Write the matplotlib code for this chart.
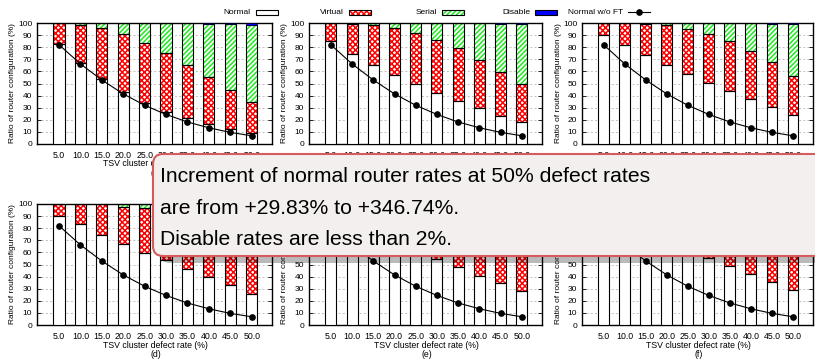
import matplotlib
matplotlib.use("Agg")
import matplotlib.pyplot as plt
from matplotlib.patches import FancyBboxPatch, Rectangle
from matplotlib.lines import Line2D
import numpy as np

plt.rcParams['font.family'] = ['Liberation Sans', 'DejaVu Sans']
plt.rcParams['hatch.linewidth'] = 1.1

# ---- data -------------------------------------------------------------
rates = ["5.0", "10.0", "15.0", "20.0", "25.0", "30.0", "35.0", "40.0", "45.0", "50.0"]
normal_wo_ft = [82.0, 66.2, 52.9, 41.4, 32.0, 24.4, 18.2, 13.4, 9.6, 6.8]

normal_a = [82.6, 66.9, 53.6, 42.8, 33.7, 26.8, 21.3, 16.3, 12.2, 8.8]
virtual_a = [17.1, 31.7, 42.3, 48.1, 49.7, 48.3, 43.6, 38.7, 32.3, 25.7]
serial_a = [0.3, 1.3, 4.0, 9.0, 16.5, 24.7, 34.8, 44.5, 54.7, 64.0]
disable_a = [0.0, 0.1, 0.1, 0.1, 0.1, 0.2, 0.3, 0.5, 0.8, 1.5]

normal_b = [85.4, 74.3, 64.9, 57.2, 49.7, 42.5, 35.9, 29.6, 23.5, 18.0]
virtual_b = [14.6, 25.1, 33.2, 38.7, 42.0, 43.7, 43.4, 40.0, 36.4, 31.4]
serial_b = [0.0, 0.6, 1.8, 4.0, 8.2, 13.7, 20.5, 30.1, 39.6, 49.8]
disable_b = [0.0, 0.0, 0.1, 0.1, 0.1, 0.1, 0.2, 0.3, 0.5, 0.8]

normal_c = [90.3, 81.5, 73.2, 65.5, 57.7, 50.8, 43.9, 37.0, 30.4, 23.8]
virtual_c = [9.7, 18.3, 26.2, 32.6, 37.3, 40.1, 40.9, 40.1, 37.3, 32.8]
serial_c = [0.0, 0.2, 0.5, 1.8, 4.9, 9.0, 15.0, 22.6, 31.8, 42.8]
disable_c = [0.0, 0.0, 0.1, 0.1, 0.1, 0.1, 0.2, 0.3, 0.5, 0.6]

normal_d = [90.4, 83.2, 74.7, 66.9, 59.8, 53.7, 46.3, 39.4, 32.8, 25.9]
virtual_d = [9.6, 16.8, 25.0, 30.9, 36.6, 40.6, 45.5, 49.3, 51.7, 53.1]
serial_d = [0.0, 0.0, 0.3, 2.1, 3.5, 5.5, 8.0, 11.0, 15.0, 20.0]
disable_d = [0.0, 0.0, 0.0, 0.1, 0.1, 0.2, 0.2, 0.3, 0.5, 1.0]

normal_e = [91.0, 83.8, 75.6, 68.0, 61.0, 54.3, 47.7, 40.8, 34.4, 27.8]
virtual_e = [9.0, 16.2, 24.2, 30.4, 35.4, 39.5, 43.8, 47.2, 49.6, 51.0]
serial_e = [0.0, 0.0, 0.2, 1.5, 3.5, 6.0, 8.3, 11.7, 15.5, 20.5]
disable_e = [0.0, 0.0, 0.0, 0.1, 0.1, 0.2, 0.2, 0.3, 0.5, 0.7]

normal_f = [91.5, 84.5, 76.5, 69.0, 62.0, 55.1, 48.5, 41.9, 35.3, 28.7]
virtual_f = [8.5, 15.5, 23.3, 29.6, 34.5, 39.0, 43.5, 47.1, 49.7, 51.1]
serial_f = [0.0, 0.0, 0.2, 1.3, 3.4, 5.7, 7.8, 10.7, 14.5, 19.5]
disable_f = [0.0, 0.0, 0.0, 0.1, 0.1, 0.2, 0.2, 0.3, 0.5, 0.7]

panel_tags = ["(a)", "(b)", "(c)", "(d)", "(e)", "(f)"]
legend_labels = ["Normal", "Virtual", "Serial", "Disable", "Normal w/o FT"]
xlabel_text = "TSV cluster defect rate (%)"
ylabel_text = "Ratio of router configuration (%)"
note_lines = ["Increment of normal router rates at 50% defect rates",
              "are from +29.83% to +346.74%.",
              "Disable rates are less than 2%."]

panels = [
    (normal_a, virtual_a, serial_a, disable_a),
    (normal_b, virtual_b, serial_b, disable_b),
    (normal_c, virtual_c, serial_c, disable_c),
    (normal_d, virtual_d, serial_d, disable_d),
    (normal_e, virtual_e, serial_e, disable_e),
    (normal_f, virtual_f, serial_f, disable_f),
]

# ---- styles -----------------------------------------------------------
RED = "#ff0000"
GREEN = "#1ee81e"
BLUE = "#0000ff"
RED_HATCH = "xxxxxx"
GREEN_HATCH = "///////"
W, H = 815, 360
BAR_W = 0.52
TICK_FS = 6.0


def rect(l, t, r, b):
    return [l / W, 1 - b / H, (r - l) / W, (b - t) / H]


fig = plt.figure(figsize=(W / 100, H / 100), dpi=100)

cols = [(37, 272), (309, 542), (582, 813)]
rows = [(23, 144), (204, 325)]


def segment(ax, x, bottom, height, hatch=None, hcolor=None, face="white"):
    if hatch is not None:
        ax.bar(x, height, BAR_W, bottom=bottom, facecolor="white",
               edgecolor=hcolor, hatch=hatch, linewidth=0, zorder=2)
        ax.bar(x, height, BAR_W, bottom=bottom, facecolor="none",
               edgecolor="black", linewidth=0.8, zorder=3)
    else:
        ax.bar(x, height, BAR_W, bottom=bottom, facecolor=face,
               edgecolor="black", linewidth=0.8, zorder=3)


for i, (normal, virtual, serial, disable) in enumerate(panels):
    r, c = divmod(i, 3)
    l, rr = cols[c]
    t, b = rows[r]
    ax = fig.add_axes(rect(l, t, rr, b))
    x = np.arange(len(rates))
    normal = np.array(normal)
    virtual = np.array(virtual)
    serial = np.array(serial)
    disable = np.array(disable)

    segment(ax, x, 0, normal, face="white")
    segment(ax, x, normal, virtual, hatch=RED_HATCH, hcolor=RED)
    segment(ax, x, normal + virtual, serial, hatch=GREEN_HATCH, hcolor=GREEN)
    ax.bar(x, disable, BAR_W, bottom=normal + virtual + serial,
           facecolor=BLUE, edgecolor="black", linewidth=0.4, zorder=3)

    ax.plot(x, normal_wo_ft, color="black", linewidth=0.8, marker="o",
            markersize=3.8, zorder=5)

    ax.set_xlim(-1.03, 9.95)
    ax.set_ylim(0, 100)
    ax.set_yticks(range(0, 101, 10))
    ax.set_xticks(x)
    ax.set_xticklabels(rates)
    ax.yaxis.grid(True, linestyle=(0, (2.5, 2.5)), color="#b8b8b8",
                  linewidth=0.6, zorder=0)
    ax.set_axisbelow(True)
    ax.tick_params(axis="y", direction="in", length=3, width=0.6,
                   labelsize=TICK_FS, pad=3.5, right=True, colors="black")
    ax.tick_params(axis="x", direction="in", length=0, labelsize=TICK_FS + 0.3,
                   pad=5)
    for sp in ax.spines.values():
        sp.set_linewidth(1.0)
        sp.set_color("black")

    fig.text((l - 24) / W, 1 - (t + b) / 2 / H, ylabel_text, rotation=90,
             ha="center", va="center", fontsize=TICK_FS)
    xc = (l + (rr - l) * 0.505) / W
    fig.text(xc, 1 - (b + 20) / H, xlabel_text, ha="center", va="center",
             fontsize=TICK_FS + 0.3)
    fig.text(xc, 1 - (b + 29.5) / H, panel_tags[i], ha="center", va="center",
             fontsize=TICK_FS + 0.3)

# ---- legend across the top ------------------------------------------
ov = fig.add_axes([0, 0, 1, 1], zorder=10)
ov.set_xlim(0, W)
ov.set_ylim(H, 0)
ov.axis("off")
ov.patch.set_alpha(0)

ly = 12
for k, lab in enumerate(legend_labels):
    xe = 278 + 93 * k
    ov.text(xe - 27, ly, lab, ha="right", va="center", fontsize=TICK_FS)
    if k == 4:
        ov.add_line(Line2D([xe - 22, xe], [ly, ly], color="black", lw=0.8))
        ov.plot([xe - 11], [ly], "o", color="black", markersize=3.8)
        continue
    if k == 0:
        ov.add_patch(Rectangle((xe - 22, ly - 2.5), 22, 5, facecolor="white",
                               edgecolor="black", lw=0.8))
    elif k == 1:
        ov.add_patch(Rectangle((xe - 22, ly - 2.5), 22, 5, facecolor="white",
                               edgecolor=RED, hatch=RED_HATCH, lw=0))
        ov.add_patch(Rectangle((xe - 22, ly - 2.5), 22, 5, facecolor="none",
                               edgecolor="black", lw=0.8))
    elif k == 2:
        ov.add_patch(Rectangle((xe - 22, ly - 2.5), 22, 5, facecolor="white",
                               edgecolor=GREEN, hatch=GREEN_HATCH, lw=0))
        ov.add_patch(Rectangle((xe - 22, ly - 2.5), 22, 5, facecolor="none",
                               edgecolor="black", lw=0.8))
    else:
        ov.add_patch(Rectangle((xe - 22, ly - 2.5), 22, 5, facecolor=BLUE,
                               edgecolor="black", lw=0.8))

# ---- annotation callout ------------------------------------------------
bx, by, bw, bh = 153, 154, 700, 102
ov.add_patch(FancyBboxPatch((bx + 7, by + 7), bw, bh,
                            boxstyle="round,pad=0,rounding_size=10",
                            facecolor="black", alpha=0.27, linewidth=0,
                            zorder=20))
ov.add_patch(FancyBboxPatch((bx, by), bw, bh,
                            boxstyle="round,pad=0,rounding_size=10",
                            facecolor="#f3efee", edgecolor="#d65c5c",
                            linewidth=1.5, zorder=21))
for k, line in enumerate(note_lines):
    ov.text(160, 182 + 31.5 * k, line, ha="left", va="baseline",
            fontsize=15.2, color="black", zorder=22)

fig.savefig("out.png", dpi=100)
